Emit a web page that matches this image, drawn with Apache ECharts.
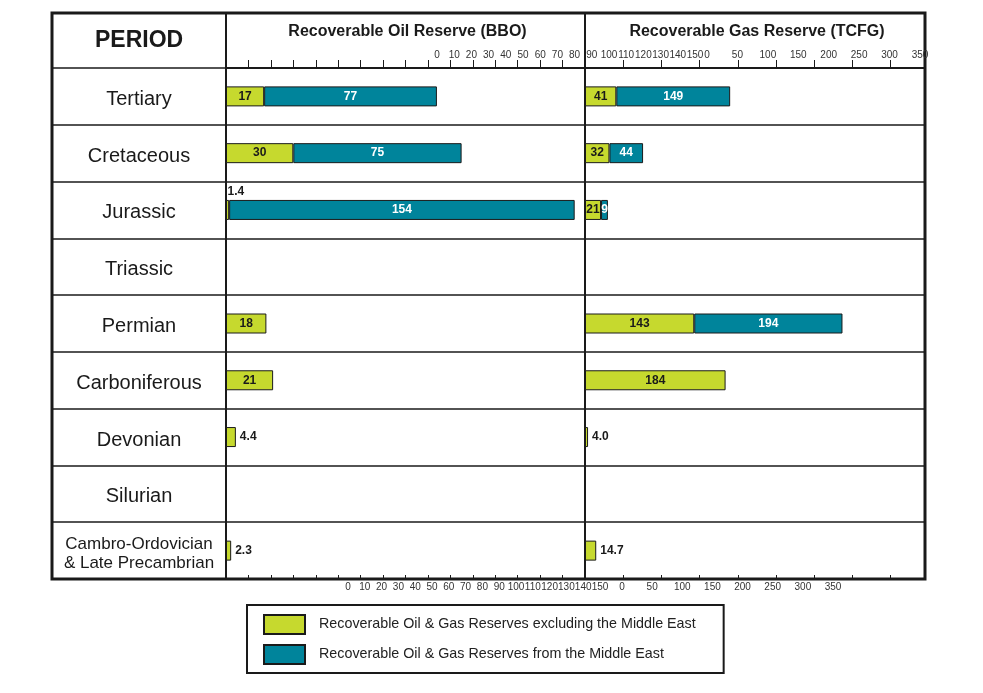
<!DOCTYPE html>
<html><head><meta charset="utf-8">
<script src="https://cdn.jsdelivr.net/npm/echarts@6/dist/echarts.min.js"></script>
<style>html,body{margin:0;padding:0;background:#fff}#c{width:983px;height:693px}</style>
</head><body><div id="c"></div>
<script>
// ---- data ----
const periods = ['Tertiary','Cretaceous','Jurassic','Triassic','Permian','Carboniferous','Devonian','Silurian','Cambro-Ordovician\n& Late Precambrian'];
const oilNonME = [17, 30, 1.4, null, 18, 21, 4.4, null, 2.3];
const oilME    = [77, 75, 154, null, null, null, null, null, null];
const gasNonME = [41, 32, 21, null, 143, 184, 4.0, null, 14.7];
const gasME    = [149, 44, 9, null, 194, null, null, null, null];
const oilTickLabels = [0,10,20,30,40,50,60,70,80,90,100,110,120,130,140,150];
const gasTickLabels = [0,50,100,150,200,250,300,350];
const nonMEName = 'Recoverable Oil & Gas Reserves excluding the Middle East';
const MEName = 'Recoverable Oil & Gas Reserves from the Middle East';
const oilTitle = 'Recoverable Oil Reserve (BBO)';
const gasTitle = 'Recoverable Gas Reserve (TCFG)';

// ---- style ----
const FONT = '"Liberation Sans", Arial, sans-serif';
const NARROW = '"Liberation Sans Narrow", "Arial Narrow", "Liberation Sans", sans-serif';
const INK = '#1a1a1a';
const GREEN = '#c6d92e';
const TEAL = '#00849b';
const OIL_MAX = 160, GAS_MAX = 445;

const chart = echarts.init(document.getElementById('c'), null, {renderer: 'canvas'});

function hiddenX(g){ return {gridIndex: g, type: 'value', show: false, min: 0, max: 1}; }
function hiddenY(g){ return {gridIndex: g, type: 'value', show: false, min: 0, max: 1}; }

function topAxis(g, max, interval, name){
  return {gridIndex: g, type: 'value', position: 'top', min: 0, max: max, interval: interval,
    axisLine: {show: true, lineStyle: {color: INK, width: 2}},
    axisTick: {show: true, length: 8, lineStyle: {color: INK, width: 1}},
    axisLabel: {show: false}, splitLine: {show: false},
    name: name, nameLocation: 'middle', nameGap: 28,
    nameTextStyle: {fontFamily: FONT, fontSize: 16, fontWeight: 'bold', color: INK, padding: [0, 0, 0, 4]}};
}
function bottomAxis(g, max, interval){
  return {gridIndex: g, type: 'value', position: 'bottom', min: 0, max: max, interval: interval,
    axisLine: {show: true, lineStyle: {color: INK, width: 2}},
    axisTick: {show: true, inside: true, length: 4, lineStyle: {color: INK, width: 1}},
    axisLabel: {show: false}, splitLine: {show: false}};
}
function labelAxis(g, ticks, pos){
  return {gridIndex: g, type: 'value', position: pos, min: ticks[0], max: ticks[ticks.length-1],
    interval: ticks[1] - ticks[0],
    axisLine: {show: false}, axisTick: {show: false}, splitLine: {show: false},
    axisLabel: {show: true, margin: 1, fontSize: 10, color: '#333', fontFamily: NARROW,
      showMinLabel: true, showMaxLabel: true}};
}
function catY(g, showLabels){
  const a = {gridIndex: g, type: 'category', inverse: true, data: periods,
    axisLine: {show: !showLabels, lineStyle: {color: INK, width: 2}},
    axisTick: {show: false},
    splitLine: {show: true, interval: 0, lineStyle: {color: INK, width: 1.5}},
    axisLabel: {show: false}};
  if (showLabels) {
    a.axisLabel = {show: true, inside: true, margin: 87, align: 'center', interval: 0,
      fontSize: 20, color: INK, fontFamily: FONT, padding: [6, 0, 0, 0],
      formatter: v => v.indexOf('\n') >= 0 ? v.split('\n').map(s => '{s|' + s + '}').join('\n') : v,
      rich: {s: {fontSize: 17, lineHeight: 19, color: INK, fontFamily: FONT}}};
  }
  return a;
}

function nonMEData(vals, meVals, smallLimit){
  return vals.map((v, i) => {
    if (v == null) return null;
    const item = {value: v};
    if (v < smallLimit) {
      item.label = meVals[i] != null
        ? {position: 'top', align: 'left', distance: 2}
        : {position: 'right', distance: 4};
    }
    return item;
  });
}

const labelBase = {show: true, fontFamily: FONT, fontSize: 12, fontWeight: 'bold'};
function barSeries(name, x, y, stack, data, color, txtColor, fmt){
  return {name: name, type: 'bar', xAxisIndex: x, yAxisIndex: y, stack: stack, barWidth: 20,
    data: data, itemStyle: {color: color, borderColor: INK, borderWidth: 1},
    label: Object.assign({}, labelBase, {position: 'inside', color: txtColor, formatter: fmt}),
    emphasis: {disabled: true}, animation: false};
}
const fmtNon = p => (p.value < 10 ? p.value.toFixed(1) : String(p.value));
const fmtME = p => String(p.value);

const option = {
  backgroundColor: '#fff',
  animation: false,
  title: {text: 'PERIOD', left: 95, top: 29, padding: 0,
    textStyle: {fontFamily: FONT, fontSize: 23, fontWeight: 'bold', color: INK}},
  legend: {data: [nonMEName, MEName], orient: 'vertical', left: 247, top: 605,
    padding: [9, 28, 8, 16], borderColor: INK, borderWidth: 2, itemWidth: 41, itemHeight: 19,
    itemGap: 9, icon: 'rect', selectedMode: false,
    textStyle: {fontFamily: FONT, fontSize: 14.3, color: '#222', padding: [0, 0, 0, 9]}},
  grid: [
    {left: 52, top: 13, width: 873, height: 566, show: true, borderColor: INK, borderWidth: 3, backgroundColor: 'transparent', outerBoundsMode: 'none'},
    {left: 52, top: 68, width: 174, height: 511, outerBoundsMode: 'none'},
    {left: 226, top: 68, width: 359, height: 511, outerBoundsMode: 'none'},
    {left: 585, top: 68, width: 340, height: 511, outerBoundsMode: 'none'},
    {left: 226, top: 13, width: 359, height: 55, show: true, borderColor: INK, borderWidth: 2, backgroundColor: 'transparent', outerBoundsMode: 'none'},
    {left: 437, top: 61, width: 258, height: 1, outerBoundsMode: 'none'},
    {left: 707, top: 61, width: 213, height: 1, outerBoundsMode: 'none'},
    {left: 348, top: 580, width: 252, height: 1, outerBoundsMode: 'none'},
    {left: 622, top: 580, width: 211, height: 1, outerBoundsMode: 'none'}
  ],
  xAxis: [
    hiddenX(0),                                 // 0
    hiddenX(1),                                 // 1
    topAxis(2, OIL_MAX, 10, oilTitle),          // 2
    bottomAxis(2, OIL_MAX, 10),                 // 3
    topAxis(3, GAS_MAX, 50, gasTitle),          // 4
    bottomAxis(3, GAS_MAX, 50),                 // 5
    hiddenX(4),                                 // 6
    labelAxis(5, oilTickLabels, 'top'),         // 7
    labelAxis(6, gasTickLabels, 'top'),         // 8
    labelAxis(7, oilTickLabels, 'bottom'),      // 9
    labelAxis(8, gasTickLabels, 'bottom')       // 10
  ],
  yAxis: [
    hiddenY(0),
    catY(1, true),
    catY(2, false),
    catY(3, false),
    hiddenY(4), hiddenY(5), hiddenY(6), hiddenY(7), hiddenY(8)
  ],
  series: [
    barSeries(nonMEName, 2, 2, 'oil', nonMEData(oilNonME, oilME, 10), GREEN, INK, fmtNon),
    barSeries(MEName, 2, 2, 'oil', oilME, TEAL, '#fff', fmtME),
    barSeries(nonMEName, 4, 3, 'gas', nonMEData(gasNonME, gasME, 18), GREEN, INK, fmtNon),
    barSeries(MEName, 4, 3, 'gas', gasME, TEAL, '#fff', fmtME)
  ]
};
chart.setOption(option);
</script>
</body></html>
